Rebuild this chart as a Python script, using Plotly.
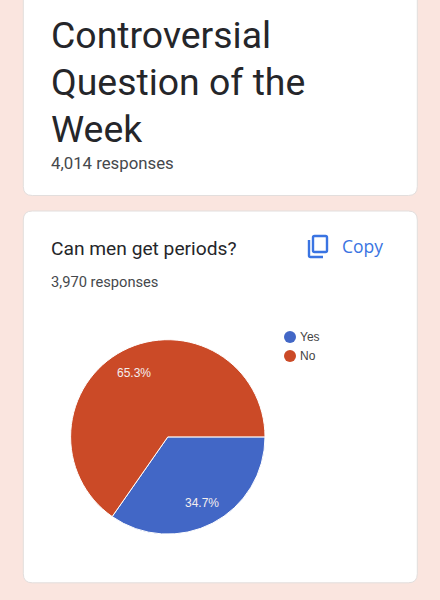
import math
import plotly.graph_objects as go

categories = ["Yes", "No"]
values = [34.7, 65.3]
colors = ["#4267c6", "#cb4a27"]
title_lines = ["Controversial", "Question of the", "Week"]
title_count = "4,014 responses"
question = "Can men get periods?"
question_count = "3,970 responses"
copy_label = "Copy"

W, H = 440, 600
BG = "#fae5df"
INK = "#25262a"
MUTED = "#45484c"
BLUE = "#3a74e2"
CX, CY, R = 167.8, 436.9, 97.2


def px(x):
    return x / W


def py(y):
    return 1 - y / H


def rounded(x0, y0, x1, y1, r):
    return (f"M{x0+r},{y0} L{x1-r},{y0} Q{x1},{y0} {x1},{y0+r} L{x1},{y1-r} Q{x1},{y1} {x1-r},{y1} "
            f"L{x0+r},{y1} Q{x0},{y1} {x0},{y1-r} L{x0},{y0+r} Q{x0},{y0} {x0+r},{y0} Z")


fig = go.Figure(go.Pie(
    labels=categories,
    values=values,
    sort=False,
    direction="clockwise",
    rotation=90,
    marker=dict(colors=colors, line=dict(color="white", width=1)),
    textinfo="none",
    showlegend=False,
    domain=dict(x=[px(CX - R), px(CX + R)], y=[py(CY + R), py(CY - R)]),
    hoverinfo="label+percent",
))

shapes = []
for (y0, y1) in [(-20, 195.5), (211, 582.8)]:
    shapes.append(dict(type="path", path=rounded(23.3, y0, 417.3, y1, 9), xref="x", yref="y",
                       fillcolor="white", line=dict(color="#e2dedd", width=1), layer="below"))

# copy icon
shapes.append(dict(type="path", path=rounded(313, 236, 327, 252, 1.5), xref="x", yref="y",
                   line=dict(color=BLUE, width=2.4)))
shapes.append(dict(type="path", path="M309,240 L309,255.5 Q309,257 310.5,257 L323,257", xref="x", yref="y",
                   line=dict(color=BLUE, width=2.4)))

# legend dots
legend_y = [337, 356]
for c, y in zip(colors, legend_y):
    shapes.append(dict(type="circle", x0=284, x1=296, y0=y - 6, y1=y + 6, xref="x", yref="y",
                       fillcolor=c, line=dict(width=0)))

anns = []


def text(x, y, s, size, color, family="Roboto", anchor="left"):
    anns.append(dict(x=x, y=y, xref="x", yref="y", text=s, showarrow=False, xanchor=anchor, yanchor="middle",
                     font=dict(family=family, size=size, color=color), borderpad=0, borderwidth=0))


for s, y in zip(title_lines, [35, 82, 129]):
    text(51, y, s, 37.4, INK)
text(51, 163, title_count, 16.8, MUTED)
text(51, 248.5, question, 19.2, INK)
text(51, 281.5, question_count, 14.7, MUTED)
text(342, 245.5, copy_label, 17.5, BLUE, "Open Sans")
for c, y in zip(categories, legend_y):
    text(300, y, c, 12, "#444444", "Liberation Sans, Arial")

# slice labels sit on each slice's bisector, three quarters of the way out
start = 0.0
total = sum(values)
for v in values:
    mid = (start + v / 2) / total * 2 * math.pi
    text(CX + 0.75 * R * math.cos(mid), CY + 1.0 + 0.75 * R * math.sin(mid), f"{v:.1f}%", 12, "#f4eeee",
         "Liberation Sans, Arial", "center")
    start += v

fig.update_layout(
    width=W, height=H, margin=dict(l=0, r=0, t=0, b=0),
    paper_bgcolor=BG, plot_bgcolor=BG,
    xaxis=dict(range=[0, W], visible=False, fixedrange=True),
    yaxis=dict(range=[H, 0], visible=False, fixedrange=True),
    shapes=shapes, annotations=anns,
)
fig.write_html("out.html", config=dict(displayModeBar=False),
               post_script="document.body.style.margin='0';document.documentElement.style.overflow='hidden';")
